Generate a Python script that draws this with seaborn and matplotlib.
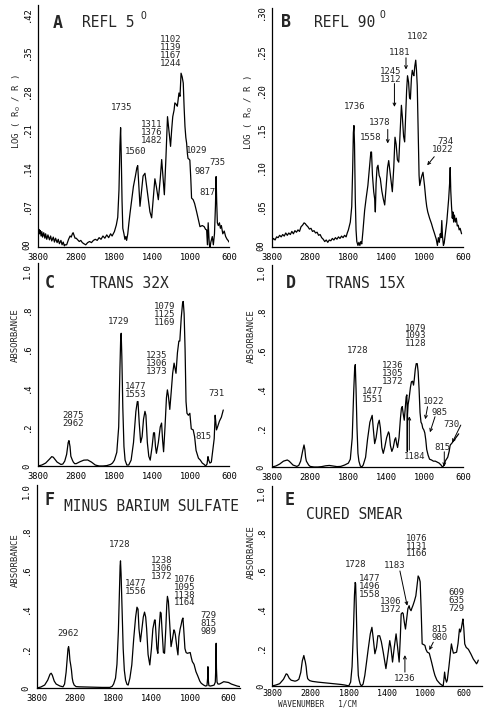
import numpy as np
import pandas as pd
import seaborn as sns
import matplotlib.pyplot as plt

sns.set_theme(style='white')
plt.rcParams['font.family'] = ['DejaVu Sans Mono', 'DejaVu Sans']
plt.rcParams['axes.linewidth'] = 0.9
plt.rcParams['mathtext.fontset'] = 'dejavusans'

# ---- spectra (wavenumber 1/cm, signal) ----
a_wn = [3800, 3790, 3775, 3760, 3740, 3720, 3700, 3680, 3650, 3620, 3600, 3570, 3540, 3500, 3470, 3440,
        3400, 3370, 3340, 3300, 3270, 3240, 3200, 3170, 3140, 3110, 3090, 3050, 3000, 2960, 2930, 2900,
        2880, 2860, 2830, 2800, 2760, 2720, 2680, 2640, 2600, 2550, 2500, 2450, 2400, 2350, 2300, 2250,
        2200, 2150, 2100, 2050, 2000, 1950, 1900, 1860, 1830, 1800, 1780, 1765, 1752, 1742, 1735, 1728,
        1720, 1712, 1700, 1690, 1680, 1672, 1660, 1648, 1636, 1620, 1601, 1580, 1565, 1556, 1545, 1532,
        1515, 1500, 1480, 1465, 1450, 1428, 1410, 1395, 1376, 1360, 1340, 1320, 1305, 1290, 1277, 1260,
        1244, 1230, 1212, 1200, 1189, 1175, 1167, 1150, 1141, 1132, 1124, 1113, 1102, 1090, 1079, 1070,
        1061, 1052, 1044, 1035, 1029, 1020, 1010, 1000, 992, 975, 960, 939, 920, 904, 880, 860,
        845, 834, 826, 818, 812, 806, 798, 790, 775, 764, 752, 742, 735, 729, 722, 712,
        700, 690, 680, 665, 650, 635, 620, 610, 600]
a_val = [0.030, 0.018, 0.028, 0.020, 0.026, 0.016, 0.024, 0.014, 0.022, 0.012, 0.020, 0.010, 0.018, 0.009, 0.016, 0.007,
         0.014, 0.005, 0.012, 0.004, 0.010, 0.002, 0.008, 0.000, 0.005, -0.002, 0.000, 0.000, 0.010, 0.016, 0.014, 0.020,
         0.022, 0.018, 0.012, 0.012, 0.009, 0.006, 0.008, 0.004, 0.002, 0.000, 0.004, 0.006, 0.004, 0.008, 0.010, 0.008,
         0.013, 0.010, 0.016, 0.012, 0.018, 0.013, 0.020, 0.016, 0.020, 0.024, 0.036, 0.050, 0.100, 0.180, 0.213, 0.160,
         0.080, 0.030, 0.020, 0.010, 0.015, 0.008, 0.020, 0.040, 0.058, 0.080, 0.106, 0.125, 0.140, 0.144, 0.110, 0.070,
         0.100, 0.125, 0.130, 0.110, 0.090, 0.060, 0.049, 0.080, 0.120, 0.105, 0.082, 0.120, 0.155, 0.120, 0.091, 0.160,
         0.233, 0.210, 0.179, 0.210, 0.233, 0.245, 0.258, 0.255, 0.252, 0.265, 0.276, 0.270, 0.312, 0.305, 0.294, 0.250,
         0.215, 0.195, 0.185, 0.165, 0.157, 0.156, 0.154, 0.120, 0.085, 0.082, 0.075, 0.060, 0.045, 0.033, 0.035, 0.033,
         0.028, 0.027, 0.000, 0.040, 0.020, 0.000, -0.004, 0.005, 0.015, 0.000, 0.020, 0.070, 0.124, 0.080, 0.040, 0.035,
         0.040, 0.030, 0.035, 0.020, 0.025, 0.015, 0.010, 0.008, 0.005]

b_wn = [3800, 3760, 3720, 3680, 3640, 3600, 3560, 3520, 3480, 3440, 3400, 3360, 3320, 3280, 3240, 3200,
        3160, 3120, 3080, 3040, 3000, 2960, 2930, 2900, 2860, 2820, 2780, 2740, 2700, 2660, 2620, 2580,
        2540, 2500, 2460, 2420, 2380, 2340, 2300, 2260, 2220, 2180, 2140, 2100, 2060, 2020, 1980, 1940,
        1900, 1860, 1830, 1800, 1780, 1765, 1755, 1748, 1742, 1736, 1728, 1720, 1712, 1700, 1690, 1680,
        1670, 1660, 1648, 1630, 1615, 1596, 1580, 1565, 1558, 1548, 1535, 1525, 1518, 1510, 1500, 1490,
        1478, 1466, 1450, 1435, 1420, 1405, 1390, 1378, 1365, 1352, 1340, 1325, 1312, 1300, 1287, 1273,
        1260, 1245, 1235, 1222, 1211, 1200, 1190, 1181, 1170, 1160, 1151, 1140, 1131, 1122, 1114, 1105,
        1095, 1087, 1079, 1070, 1060, 1053, 1040, 1030, 1019, 1010, 1003, 990, 980, 969, 950, 930,
        916, 900, 880, 868, 858, 848, 838, 830, 822, 815, 805, 797, 785, 770, 760, 750,
        740, 734, 728, 720, 712, 706, 698, 690, 680, 670, 660, 650, 640, 630, 615]
b_val = [0.006, 0.009, 0.007, 0.011, 0.010, 0.013, 0.011, 0.014, 0.012, 0.016, 0.013, 0.016, 0.014, 0.018, 0.015, 0.019,
         0.017, 0.020, 0.018, 0.024, 0.026, 0.029, 0.028, 0.026, 0.024, 0.021, 0.022, 0.018, 0.019, 0.016, 0.017, 0.013,
         0.014, 0.010, 0.008, 0.005, 0.007, 0.004, 0.007, 0.006, 0.009, 0.007, 0.010, 0.008, 0.011, 0.009, 0.012, 0.010,
         0.013, 0.011, 0.016, 0.020, 0.030, 0.050, 0.100, 0.145, 0.154, 0.130, 0.060, 0.020, 0.005, 0.000, 0.004, 0.000,
         0.005, 0.002, 0.018, 0.045, 0.060, 0.077, 0.100, 0.120, 0.120, 0.090, 0.069, 0.060, 0.043, 0.080, 0.100, 0.103,
         0.090, 0.086, 0.070, 0.060, 0.052, 0.075, 0.100, 0.109, 0.095, 0.080, 0.069, 0.100, 0.139, 0.130, 0.110, 0.107,
         0.140, 0.180, 0.165, 0.140, 0.133, 0.170, 0.200, 0.218, 0.210, 0.190, 0.188, 0.215, 0.225, 0.220, 0.218, 0.230,
         0.238, 0.225, 0.205, 0.150, 0.090, 0.077, 0.085, 0.090, 0.094, 0.085, 0.077, 0.060, 0.050, 0.043, 0.035, 0.028,
         0.022, 0.016, 0.008, 0.000, 0.010, 0.004, 0.015, 0.010, 0.032, 0.012, 0.000, 0.003, 0.015, 0.030, 0.045, 0.060,
         0.080, 0.100, 0.070, 0.050, 0.035, 0.043, 0.030, 0.039, 0.030, 0.035, 0.025, 0.026, 0.020, 0.022, 0.015]

c_wn = [3800, 3700, 3600, 3500, 3440, 3400, 3300, 3200, 3150, 3100, 3050, 3010, 2990, 2962, 2940, 2900,
        2875, 2840, 2800, 2700, 2600, 2500, 2400, 2300, 2200, 2100, 2000, 1900, 1850, 1800, 1775, 1755,
        1742, 1735, 1729, 1722, 1712, 1700, 1688, 1670, 1650, 1625, 1600, 1575, 1560, 1553, 1540, 1525,
        1510, 1495, 1480, 1470, 1455, 1440, 1425, 1405, 1390, 1380, 1370, 1360, 1340, 1320, 1306, 1295,
        1285, 1270, 1255, 1245, 1235, 1220, 1205, 1190, 1175, 1165, 1155, 1140, 1125, 1115, 1100, 1085,
        1079, 1070, 1060, 1050, 1040, 1025, 1010, 995, 975, 960, 945, 920, 900, 880, 860, 845,
        830, 820, 812, 800, 785, 770, 755, 745, 737, 731, 720, 700, 680, 660]
c_val = [0.000, 0.005, 0.015, 0.035, 0.048, 0.045, 0.020, 0.008, 0.010, 0.025, 0.060, 0.120, 0.130, 0.100, 0.050, 0.030,
         0.020, 0.012, 0.012, 0.022, 0.030, 0.031, 0.020, 0.005, 0.000, 0.000, 0.002, 0.008, 0.015, 0.030, 0.070, 0.200,
         0.500, 0.640, 0.680, 0.560, 0.300, 0.100, 0.030, 0.005, 0.005, 0.030, 0.120, 0.280, 0.330, 0.330, 0.220, 0.120,
         0.150, 0.240, 0.280, 0.260, 0.120, 0.050, 0.030, 0.100, 0.170, 0.170, 0.100, 0.065, 0.120, 0.200, 0.220, 0.130,
         0.073, 0.200, 0.350, 0.390, 0.360, 0.290, 0.380, 0.475, 0.527, 0.500, 0.475, 0.580, 0.640, 0.640, 0.760, 0.840,
         0.843, 0.780, 0.600, 0.330, 0.270, 0.260, 0.270, 0.190, 0.185, 0.150, 0.080, 0.040, 0.030, 0.015, 0.008, 0.000,
         0.010, 0.048, 0.030, 0.015, 0.020, 0.080, 0.140, 0.260, 0.220, 0.185, 0.200, 0.230, 0.250, 0.287]

d_wn = [3800, 3700, 3600, 3500, 3400, 3350, 3250, 3150, 3100, 3050, 3000, 2962, 2940, 2920, 2900, 2870,
        2840, 2800, 2700, 2600, 2500, 2400, 2300, 2200, 2100, 2000, 1900, 1850, 1800, 1780, 1760, 1745,
        1735, 1728, 1720, 1710, 1700, 1690, 1675, 1660, 1645, 1620, 1600, 1575, 1551, 1540, 1525, 1510,
        1490, 1477, 1465, 1450, 1435, 1420, 1400, 1380, 1372, 1360, 1345, 1330, 1315, 1305, 1295, 1285,
        1270, 1255, 1245, 1236, 1225, 1215, 1205, 1195, 1188, 1185, 1183, 1181, 1175, 1165, 1150, 1140,
        1128, 1118, 1110, 1100, 1090, 1079, 1070, 1060, 1050, 1040, 1030, 1022, 1010, 1000, 990, 980,
        965, 950, 930, 910, 890, 870, 850, 830, 815, 805, 795, 780, 760, 745, 735, 730,
        720, 705, 690, 675, 660, 645]
d_val = [0.000, 0.005, 0.015, 0.030, 0.036, 0.030, 0.010, 0.003, 0.008, 0.030, 0.080, 0.113, 0.090, 0.050, 0.030, 0.020,
         0.010, 0.003, 0.000, 0.000, 0.002, 0.006, 0.008, 0.005, 0.002, 0.003, 0.010, 0.015, 0.020, 0.040, 0.150, 0.380,
         0.500, 0.525, 0.400, 0.200, 0.070, 0.030, 0.005, 0.000, 0.010, 0.050, 0.140, 0.230, 0.265, 0.200, 0.120, 0.150,
         0.220, 0.240, 0.200, 0.100, 0.070, 0.100, 0.150, 0.180, 0.170, 0.110, 0.080, 0.100, 0.140, 0.150, 0.120, 0.100,
         0.150, 0.250, 0.300, 0.310, 0.270, 0.240, 0.300, 0.360, 0.370, 0.300, 0.080, 0.270, 0.320, 0.350, 0.410, 0.437,
         0.440, 0.420, 0.450, 0.500, 0.530, 0.530, 0.490, 0.400, 0.280, 0.230, 0.220, 0.200, 0.190, 0.175, 0.140, 0.090,
         0.060, 0.040, 0.036, 0.030, 0.030, 0.025, 0.020, 0.010, 0.000, 0.005, 0.020, 0.035, 0.050, 0.080, 0.110, 0.115,
         0.120, 0.130, 0.140, 0.150, 0.160, 0.170]

f_wn = [3800, 3700, 3600, 3520, 3460, 3430, 3400, 3350, 3300, 3200, 3120, 3080, 3040, 3010, 2990, 2975,
        2960, 2940, 2920, 2900, 2880, 2860, 2830, 2780, 2700, 2500, 2300, 2100, 1900, 1840, 1800, 1780,
        1765, 1750, 1738, 1732, 1728, 1722, 1712, 1700, 1688, 1675, 1660, 1648, 1630, 1610, 1590, 1570,
        1556, 1545, 1535, 1520, 1505, 1490, 1477, 1465, 1455, 1440, 1422, 1405, 1390, 1372, 1366, 1358,
        1348, 1338, 1325, 1312, 1304, 1295, 1280, 1268, 1255, 1245, 1238, 1228, 1215, 1200, 1185, 1170,
        1164, 1155, 1145, 1138, 1128, 1118, 1105, 1095, 1085, 1076, 1068, 1055, 1043, 1030, 1015, 1000,
        989, 978, 960, 940, 920, 900, 885, 860, 840, 825, 818, 815, 811, 805, 790, 770,
        750, 738, 733, 729, 726, 720, 710, 695, 675, 650, 625, 600, 570, 540, 510, 480]
f_val = [0.000, 0.005, 0.015, 0.040, 0.070, 0.075, 0.065, 0.035, 0.020, 0.010, 0.006, 0.020, 0.080, 0.150, 0.200, 0.210,
         0.190, 0.140, 0.117, 0.090, 0.050, 0.030, 0.015, 0.007, 0.006, 0.005, 0.004, 0.003, 0.003, 0.008, 0.020, 0.050,
         0.120, 0.290, 0.500, 0.620, 0.645, 0.580, 0.400, 0.200, 0.090, 0.040, 0.018, 0.015, 0.050, 0.117, 0.250, 0.360,
         0.410, 0.400, 0.300, 0.235, 0.300, 0.360, 0.385, 0.360, 0.300, 0.170, 0.117, 0.200, 0.300, 0.345, 0.345, 0.280,
         0.200, 0.176, 0.300, 0.385, 0.380, 0.300, 0.180, 0.176, 0.300, 0.420, 0.465, 0.440, 0.330, 0.210, 0.250, 0.295,
         0.290, 0.270, 0.230, 0.200, 0.168, 0.260, 0.300, 0.320, 0.345, 0.355, 0.300, 0.200, 0.180, 0.176, 0.178, 0.180,
         0.155, 0.134, 0.120, 0.083, 0.060, 0.035, 0.024, 0.015, 0.010, 0.012, 0.050, 0.108, 0.040, 0.012, 0.010, 0.012,
         0.015, 0.030, 0.100, 0.227, 0.100, 0.030, 0.020, 0.020, 0.025, 0.032, 0.030, 0.028, 0.020, 0.015, 0.010, 0.007]

e_wn = [3800, 3700, 3600, 3500, 3430, 3400, 3350, 3300, 3200, 3150, 3100, 3050, 3010, 2970, 2950, 2930,
        2910, 2890, 2870, 2820, 2750, 2600, 2400, 2200, 2000, 1900, 1830, 1800, 1780, 1765, 1750, 1740,
        1733, 1728, 1722, 1712, 1700, 1691, 1680, 1667, 1650, 1632, 1615, 1597, 1575, 1558, 1545, 1527,
        1510, 1496, 1477, 1460, 1440, 1412, 1395, 1372, 1360, 1343, 1325, 1306, 1290, 1274, 1262, 1253,
        1240, 1232, 1220, 1208, 1195, 1183, 1170, 1162, 1150, 1140, 1131, 1115, 1100, 1085, 1076, 1065,
        1055, 1045, 1034, 1020, 1005, 995, 980, 960, 936, 915, 901, 880, 849, 830, 815, 808,
        800, 792, 780, 772, 755, 740, 729, 718, 708, 695, 675, 660, 645, 635, 625, 615,
        609, 600, 590, 575, 552, 525, 501, 480, 467, 455, 449]
e_val = [0.000, 0.005, 0.012, 0.035, 0.063, 0.060, 0.040, 0.030, 0.025, 0.028, 0.035, 0.070, 0.130, 0.158, 0.140, 0.124,
         0.100, 0.060, 0.038, 0.028, 0.024, 0.020, 0.016, 0.012, 0.008, 0.005, 0.002, 0.000, 0.020, 0.100, 0.300, 0.470,
         0.536, 0.530, 0.420, 0.200, 0.055, 0.030, 0.010, 0.000, 0.010, 0.055, 0.120, 0.190, 0.270, 0.304, 0.250, 0.167,
         0.200, 0.260, 0.260, 0.230, 0.175, 0.090, 0.150, 0.235, 0.200, 0.124, 0.200, 0.270, 0.200, 0.124, 0.250, 0.373,
         0.380, 0.375, 0.330, 0.295, 0.350, 0.400, 0.416, 0.400, 0.390, 0.405, 0.416, 0.440, 0.467, 0.530, 0.570, 0.560,
         0.540, 0.400, 0.218, 0.215, 0.210, 0.190, 0.175, 0.170, 0.124, 0.080, 0.055, 0.030, 0.012, 0.005, 0.000, 0.030,
         0.072, 0.040, 0.020, 0.030, 0.100, 0.170, 0.218, 0.190, 0.170, 0.172, 0.175, 0.220, 0.295, 0.280, 0.300, 0.330,
         0.347, 0.300, 0.218, 0.200, 0.190, 0.165, 0.140, 0.125, 0.115, 0.125, 0.134]

# ---- peak labels: text, wavenumber, value ----
a_labels = [('1102\n1139\n1167\n1244', 1207, 0.351), ('1735', 1720, 0.249), ('1311\n1376\n1482', 1406, 0.204),
            ('1560', 1574, 0.169), ('1029', 935, 0.171), ('735', 726, 0.149), ('987', 872, 0.133), ('817', 830, 0.095)]
b_labels = [('1102', 1075, 0.269), ('1181', 1266, 0.248), ('1245\n1312', 1354, 0.218), ('1736', 1736, 0.178),
            ('1378', 1475, 0.158), ('1558', 1569, 0.139), ('734', 780, 0.134), ('1022', 814, 0.123)]
c_labels = [('1079\n1125\n1169', 1270, 0.774), ('1729', 1759, 0.74), ('1235\n1306\n1373', 1357, 0.527),
            ('1477\n1553', 1574, 0.385), ('731', 729, 0.373), ('2875\n2962', 2876, 0.24), ('815', 869, 0.15)]
d_labels = [('1079\n1093\n1128', 1099, 0.672), ('1728', 1702, 0.596), ('1236\n1305\n1372', 1336, 0.48),
            ('1477\n1551', 1545, 0.366), ('1022', 908, 0.335), ('985', 842, 0.278), ('730', 717, 0.22),
            ('815', 814, 0.10), ('1184', 1110, 0.053)]
f_labels = [('1728', 1733, 0.726), ('1238\n1306\n1372', 1298, 0.608), ('1477\n1556', 1566, 0.509),
            ('1076\n1095\n1138\n1164', 1054, 0.492), ('729\n815\n989', 811, 0.328), ('2962', 2983, 0.278)]
e_labels = [('1076\n1131\n1166', 1093, 0.725), ('1728', 1726, 0.63), ('1183', 1319, 0.622),
            ('1477\n1496\n1558', 1587, 0.515), ('1306\n1372', 1364, 0.416), ('1236', 1214, 0.041),
            ('609\n635\n729', 675, 0.445), ('815\n980', 856, 0.27)]

# pointer lines: (from wn, from val, to wn, to val)
b_arrows = [(1197, 0.241, 1197, 0.226), (1318, 0.208, 1318, 0.178), (1388, 0.149, 1388, 0.131), (901, 0.114, 975, 0.103)]
d_arrows = [(971, 0.309, 995, 0.245), (893, 0.258, 946, 0.178), (623, 0.215, 713, 0.125),
            (796, 0.078, 796, 0.002), (1162, 0.087, 1162, 0.26)]
e_arrows = [(1266, 0.596, 1190, 0.416), (1214, 0.072, 1214, 0.16), (918, 0.227, 960, 0.186)]


def fwd(w):
    w = np.asarray(w, dtype=float)
    return np.where(w >= 1800, 1800 + (w - 1800) * 0.4, w)


def inv(u):
    u = np.asarray(u, dtype=float)
    return np.where(u >= 1800, 1800 + (u - 1800) / 0.4, u)


W, H = 486, 709
fig = plt.figure(figsize=(W / 100, H / 100), dpi=100)
fig.patch.set_facecolor('white')

abs_ticks = [0, 0.2, 0.4, 0.6, 0.8, 1.0]
abs_lbls = ['0', '.2', '.4', '.6', '.8', '1.0']

panels = [
    # letter, title, wn, val, (left, right, top, bottom px), xright, ylim, yticks, ytick labels, labels, arrows, ylabel, ylabel xy
    ('A', 'REFL 5', a_wn, a_val, (38, 229, 5, 247), 600, (-0.004, 0.436),
     [0, .07, .14, .21, .28, .35, .42], ['00', '.07', '.14', '.21', '.28', '.35', '.42'],
     a_labels, [], 'LOG ( R$_0$ / R )', (17, 112), (3276, 0.404), (1967, 0.404), (1500, 0.416)),
    ('B', 'REFL 90', b_wn, b_val, (272, 463, 8, 247), 600, (-0.002, 0.305),
     [0, .05, .10, .15, .20, .25, .30], ['00', '.05', '.10', '.15', '.20', '.25', '.30'],
     b_labels, b_arrows, 'LOG ( R$_0$ / R )', (249, 113), (3434, 0.287), (1894, 0.287), (1441, 0.296)),
    ('C', 'TRANS 32X', c_wn, c_val, (38, 229, 263, 466), 600, (0, 1.04), abs_ticks, abs_lbls,
     c_labels, [], 'ABSORBANCE', (15, 335), (3486, 0.937), (1647, 0.937), None),
    ('D', 'TRANS 15X', d_wn, d_val, (272, 463, 265, 467), 600, (0, 1.036), abs_ticks, abs_lbls,
     d_labels, d_arrows, 'ABSORBANCE', (251, 336), (3295, 0.942), (1621, 0.942), None),
    ('F', 'MINUS BARIUM SULFATE', f_wn, f_val, (37, 240, 485, 688), 480, (0, 1.03), abs_ticks, abs_lbls,
     f_labels, [], 'ABSORBANCE', (15, 560), (3479, 0.954), (1402, 0.919), None),
    ('E', 'CURED SMEAR', e_wn, e_val, (272, 482, 486, 686), 410, (0, 1.036), abs_ticks, abs_lbls,
     e_labels, e_arrows, 'ABSORBANCE', (251, 552), (3338, 0.965), (1747, 0.888), None),
]

for (letter, title, wn, val, box, xright, ylim, yt, ytl, labels, arrows,
     ylab, ylab_xy, letter_xy, title_xy, sup_xy) in panels:
    l, r, t, b = box
    ax = fig.add_axes([l / W, 1 - b / H, (r - l) / W, (b - t) / H])
    ax.set_xscale('function', functions=(fwd, inv))
    df = pd.DataFrame({'wn': wn, 'val': val})
    sns.lineplot(data=df, x='wn', y='val', ax=ax, color='black', lw=0.9, estimator=None, sort=False)
    ax.set_xlim(3800, xright)
    ax.set_ylim(*ylim)
    ax.set_xticks([3800, 2800, 1800, 1400, 1000, 600])
    ax.set_xticklabels(['3800', '2800', '1800', '1400', '1000', '600'], fontsize=6.3)
    ax.set_yticks(yt)
    ax.set_yticklabels(ytl, rotation=90, va='center', fontsize=6.3)
    ax.minorticks_off()
    ax.tick_params(axis='both', direction='out', length=2.5, width=0.8, pad=2, colors='black')
    if letter == 'E':
        ax.tick_params(axis='x', length=2, pad=0.5, labelsize=6)
    ax.set_xlabel('')
    ax.set_ylabel('')
    for side in ['top', 'right']:
        ax.spines[side].set_visible(False)
    for side in ['left', 'bottom']:
        ax.spines[side].set_color('black')
    ax.set_facecolor('white')

    ax.text(*letter_xy, letter, fontsize=12, fontweight='bold', ha='center', va='center')
    ax.text(*title_xy, title, fontsize=10.5, ha='center', va='center')
    if sup_xy is not None:
        ax.text(*sup_xy, 'O', fontsize=7, ha='center', va='center')
    for txt, x, y in labels:
        ax.text(x, y, txt, fontsize=6.5, ha='center', va='center', linespacing=0.85)
    for x1, y1, x2, y2 in arrows:
        ax.annotate('', xy=(x2, y2), xytext=(x1, y1),
                    arrowprops=dict(arrowstyle='->', lw=0.7, color='black', shrinkA=0, shrinkB=0,
                                    mutation_scale=5))
    fig.text(ylab_xy[0] / W, 1 - ylab_xy[1] / H, ylab, rotation=90, fontsize=6.5, ha='center', va='center')

fig.text(278 / W, 0.5 / H, 'WAVENUMBER   1/CM', fontsize=5.6, ha='left', va='bottom')

fig.savefig('out.png', dpi=100, facecolor='white')
